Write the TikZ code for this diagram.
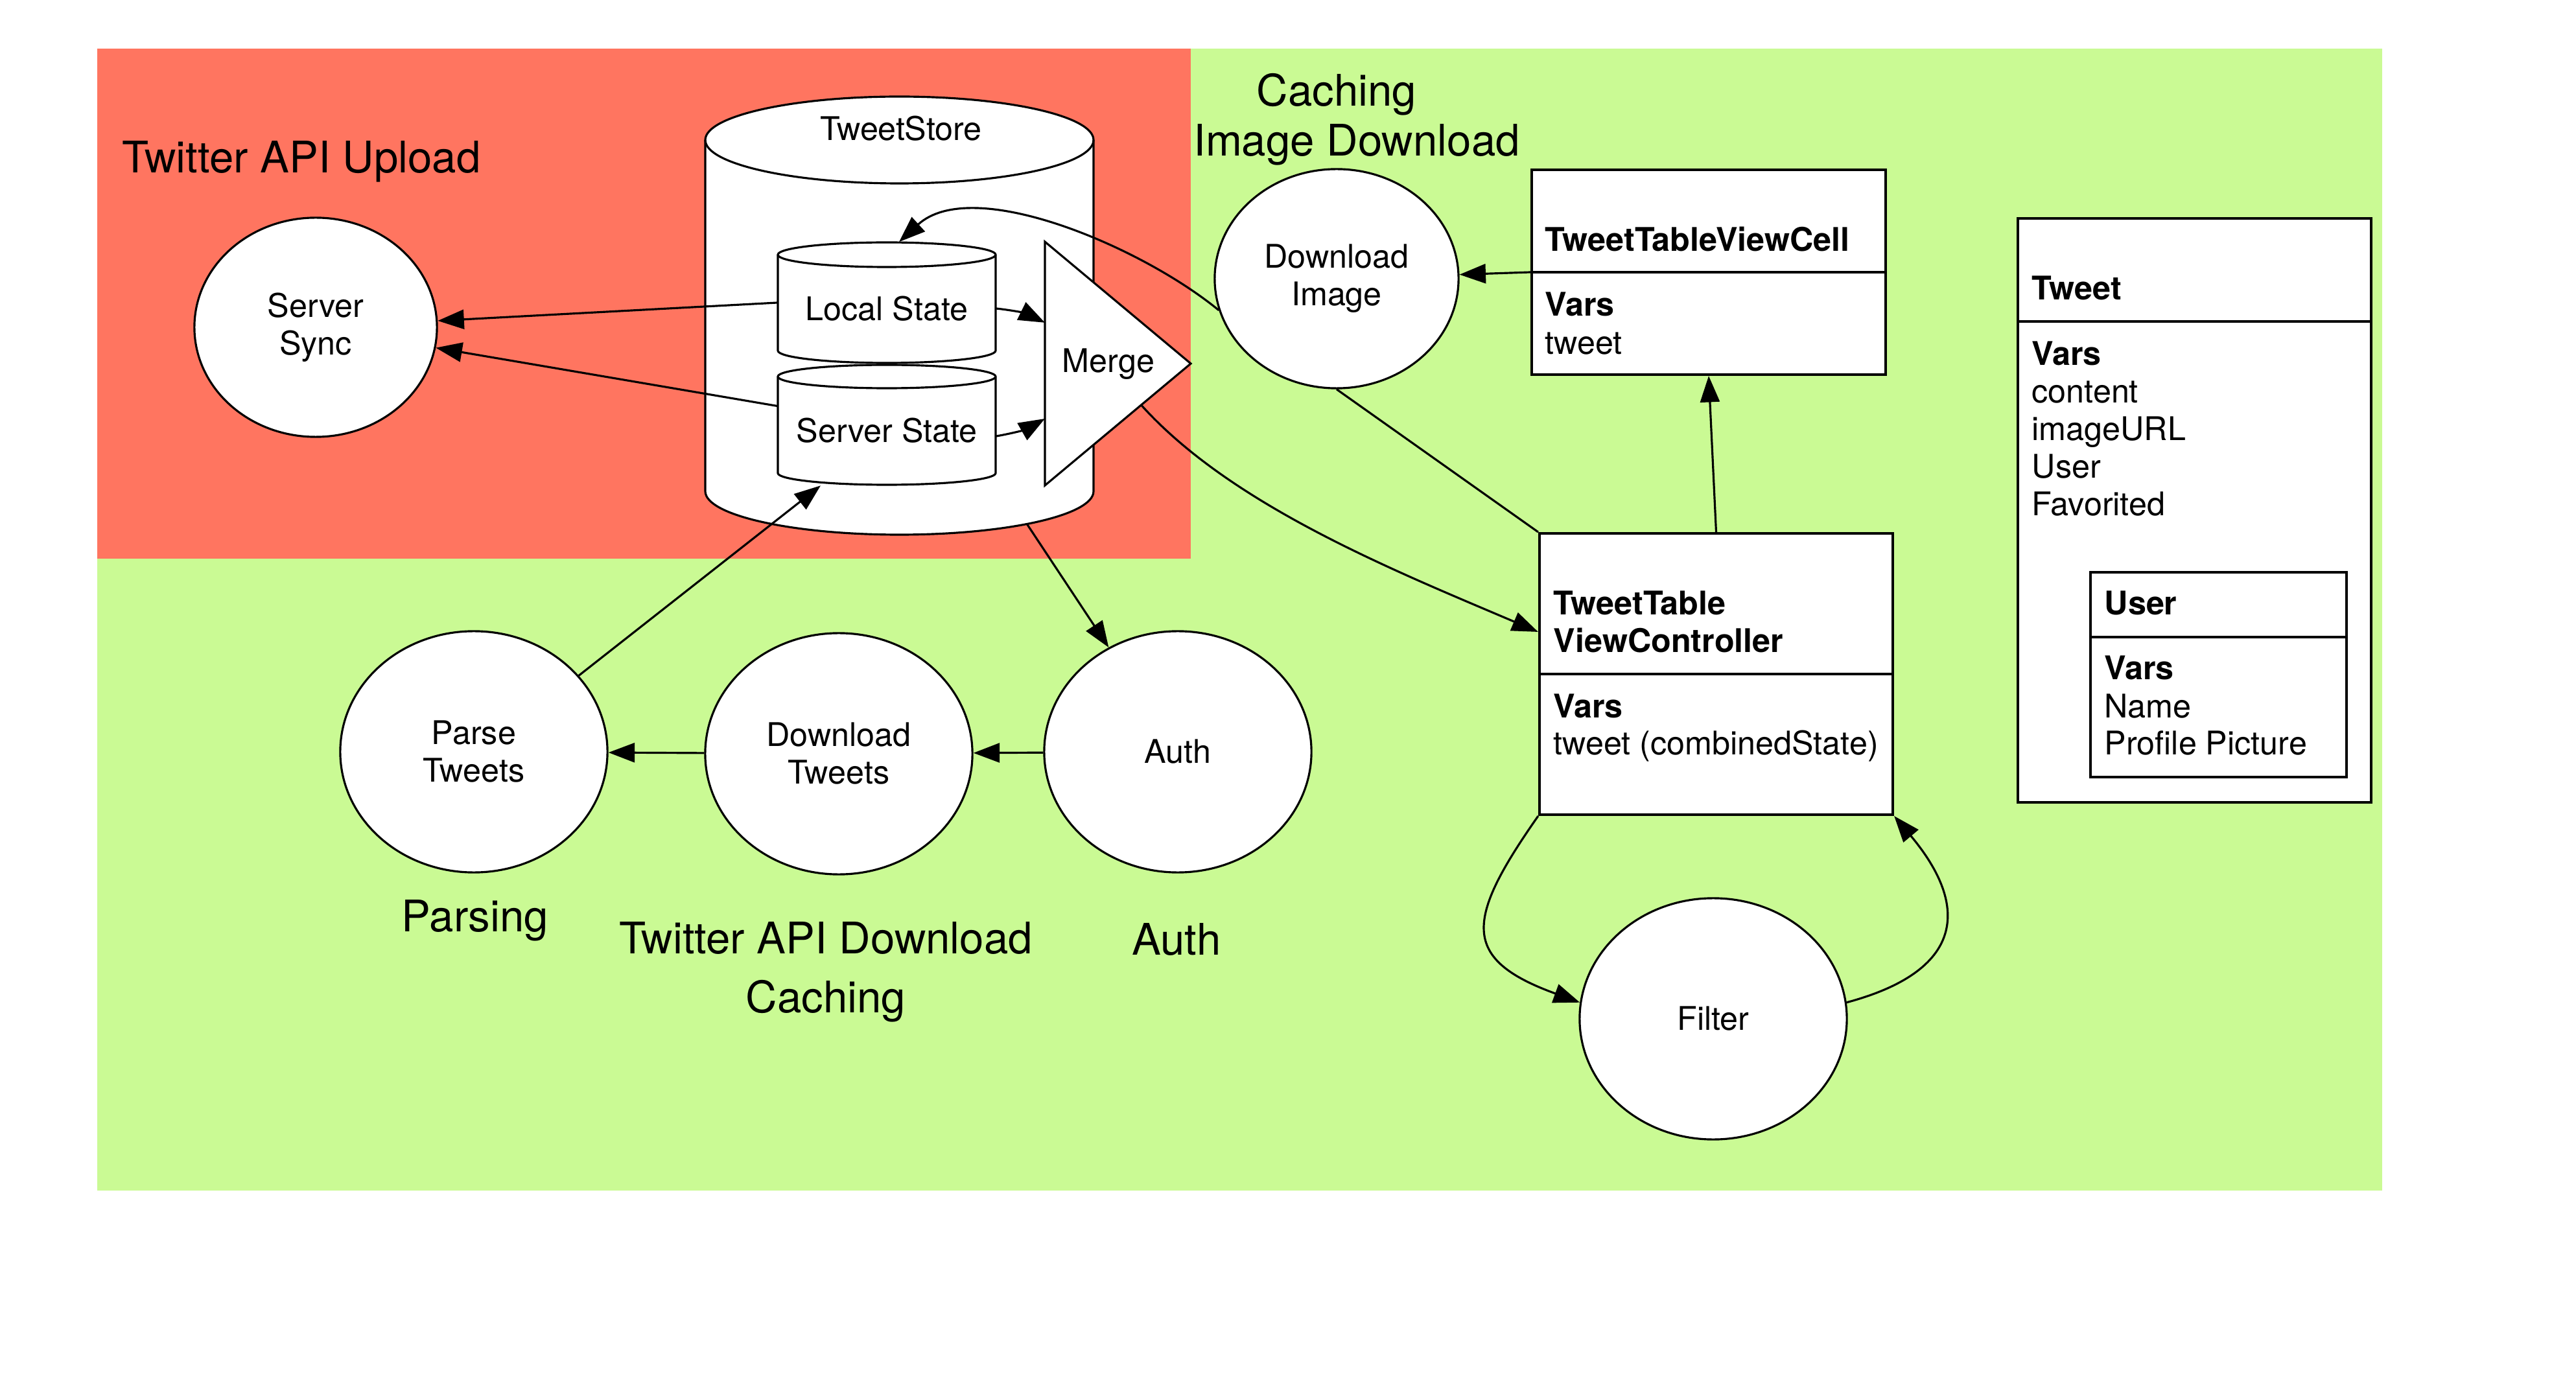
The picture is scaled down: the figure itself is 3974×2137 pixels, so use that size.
\documentclass[tikz,border=0pt]{standalone}
\usepackage{fontspec}
\setmainfont{TeX Gyre Heros}
\usetikzlibrary{calc}
\usetikzlibrary{arrows.meta}
\usetikzlibrary{shapes.geometric}
\definecolor{uploadred}{RGB}{255,117,96}
\definecolor{cachegreen}{RGB}{202,250,148}
\tikzset{
  every node/.style = {font = \fontsize{14.3}{16.5}\selectfont}
}
\tikzset{
    >={Triangle[length=11.5pt,width=8.5pt]}
}
\tikzset{
  process/.style = {ellipse, draw, fill=white, line width=0.9pt, align=center,
    minimum width=4.12cm, minimum height=3.72cm, inner sep=0pt},
  classbox/.style = {rectangle, draw, fill=white, line width=1.1pt, inner sep=0pt},
  member/.style = {anchor=base west, inner sep=0pt},
  cylbody/.style = {minimum width=3.36cm, minimum height=1.86cm, inner sep=0pt,
    text height=15.5pt, text depth=0pt},
  region label/.style = {font=\fontsize{19.1}{22}\selectfont, align=center, inner sep=0pt},
  flow/.style = {->, line width=0.9pt}
}
% cylinder: centre x, top y, bottom y, x radius, y radius (pixels, y downwards)
\newcommand{\drawcyl}[5]{
  \filldraw[fill=white, line width=0.9pt]
    ({#1-#4},{-#2-#5}) -- ({#1-#4},{-#3+#5})
    arc[start angle=180, end angle=360, x radius={#4*0.01cm}, y radius={#5*0.01cm}]
    -- ({#1+#4},{-#2-#5})
    arc[start angle=0, end angle=180, x radius={#4*0.01cm}, y radius={#5*0.01cm}]
    -- cycle;
  \draw[line width=0.9pt] ({#1-#4},{-#2-#5})
    arc[start angle=180, end angle=360, x radius={#4*0.01cm}, y radius={#5*0.01cm}];
}

\begin{document}
\begin{tikzpicture}[x=0.01cm, y=0.01cm]
  \useasboundingbox (0,0) rectangle (3974,-2137);

  % areas
  \fill[cachegreen] (150,-75) rectangle (3675,-1837);
  \fill[uploadred] (150,-75) rectangle (1837,-862);

  \node[region label, anchor=base west] (uplbl) at (188,-267) {Twitter API Upload};
  \node[region label] (imglbl) at (2093,-184) {Caching\hspace*{0.62cm}\\Image Download};
  \node[region label, anchor=base] (parselbl) at (733,-1437) {Parsing};
  \node[region label] (apilbl) at (1274,-1500) {Twitter API Download\\[4pt]Caching};
  \node[region label, anchor=base] (authlbl) at (1815,-1473) {Auth};

  % tweet store
  \drawcyl{1387.5}{149}{825}{299.5}{67}
  \drawcyl{1368}{374}{560}{168}{19}
  \drawcyl{1368}{563}{748}{168}{18}
  \node[minimum width=5.99cm, minimum height=6.76cm, inner sep=0pt] (store) at (1387.5,-487) {};
  \node[anchor=base] (storelbl) at (1390,-217) {TweetStore};
  \node[cylbody] (local) at (1368,-467) {Local State};
  \node[cylbody] (server) at (1368,-655.5) {Server State};

  \coordinate (mtop) at (1612,-373);
  \coordinate (mapex) at (1837,-561);
  \coordinate (mbot) at (1612,-749);
  \filldraw[fill=white, line width=0.9pt] (mtop) -- (mapex) -- (mbot) -- cycle;
  \node (merge) at (1710,-562) {Merge};

  % processes
  \node[process, minimum width=3.74cm, minimum height=3.38cm] (sync) at (487,-505) {Server\\Sync};
  \node[process, minimum width=3.76cm, minimum height=3.38cm] (dlimg) at (2062,-430) {Download\\Image};
  \node[process] (parse) at (731,-1160) {Parse\\Tweets};
  \node[process] (dltw) at (1294,-1163) {Download\\Tweets};
  \node[process] (auth) at (1817,-1160) {Auth};
  \node[process] (filter) at (2643,-1572) {Filter};

  % classes
  \node[classbox, minimum width=5.46cm, minimum height=3.16cm] (cell) at (2636,-420) {};
  \draw[line width=1.1pt] (cell.west) -- (cell.east);
  \node[member] (celltitle) at (2383,-388) {\bfseries TweetTableViewCell};
  \node[member] (cellvars) at (2383,-488) {\bfseries Vars};
  \node[member] (cellvar) at (2383,-547) {tweet};

  \node[classbox, minimum width=5.45cm, minimum height=4.34cm] (vc) at (2647.5,-1040) {};
  \draw[line width=1.1pt] (vc.west) -- (vc.east);
  \node[member] (vctitle) at (2396,-949) {\bfseries TweetTable};
  \node[member] (vctitleb) at (2396,-1007) {\bfseries ViewController};
  \node[member] (vcvars) at (2396,-1107) {\bfseries Vars};
  \node[member] (vcvar) at (2396,-1165) {tweet (combinedState)};

  \node[classbox, minimum width=5.45cm, minimum height=9.01cm] (tweet) at (3385.5,-787.5) {};
  \draw[line width=1.1pt] (tweet.west |- 0,-496) -- (tweet.east |- 0,-496);
  \node[member] (tweettitle) at (3134,-463) {\bfseries Tweet};
  \node[member] (tweetvars) at (3134,-564) {\bfseries Vars};
  \foreach \txt [count=\i from 0] in {content, imageURL, User, Favorited}
    \node[member] (tweetvar\i) at (3134,{-622-58*\i}) {\txt};

  \node[classbox, minimum width=3.95cm, minimum height=3.16cm] (user) at (3422.5,-1041) {};
  \draw[line width=1.1pt] (user.west |- 0,-983) -- (user.east |- 0,-983);
  \node[member] (usertitle) at (3246,-949) {\bfseries User};
  \node[member] (uservars) at (3246,-1049) {\bfseries Vars};
  \foreach \txt [count=\i from 0] in {Name, Profile Picture}
    \node[member] (uservar\i) at (3246,{-1107-58*\i}) {\txt};

  % flows
  \draw[flow] (local.west) -- (sync);
  \draw[flow] ([yshift=0.29cm]server.west) -- (sync);
  \draw[flow] ([yshift=-0.09cm]local.east) to[bend left=10] ($(mtop)!0.332!(mbot)$);
  \draw[flow] ([yshift=-0.175cm]server.east) to[bend right=10] ($(mtop)!0.726!(mbot)$);
  \draw[flow] (dlimg.195) .. controls (1760,-380) and (1500,-270) .. ([xshift=0.19cm]local.north);
  \draw[flow] ($(mapex)!0.34!(mbot)$) .. controls (1900,-780) and (2150,-880) .. ([yshift=0.65cm]vc.west);
  \draw[line width=0.9pt] (dlimg.south) -- (vc.north west);
  \draw[flow] (cell.west) -- (dlimg);
  \draw[flow] (vc.north) -- (cell.south);
  \draw[flow] (auth) -- (dltw);
  \draw[flow] (dltw) -- (parse);
  \draw[flow] (parse.36) -- ([xshift=-1.02cm]server.south);
  \draw[flow] ($(store.south)+(197,17)$) -- (auth);
  \draw[flow] (vc.south west) to[out=235, in=160, looseness=1.7] (filter.173);
  \draw[flow] (filter.7) to[out=15, in=-50, looseness=1.6] (vc.south east);
\end{tikzpicture}
\end{document}
